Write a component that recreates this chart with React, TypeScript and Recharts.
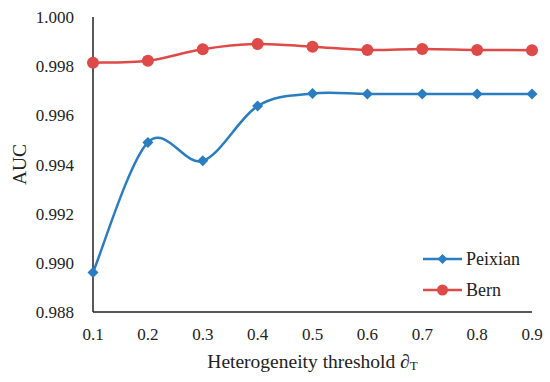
import { Label, Line, LineChart, XAxis, YAxis } from "recharts";

const thresholds = [0.1, 0.2, 0.3, 0.4, 0.5, 0.6, 0.7, 0.8, 0.9];
const peixian = [0.98961, 0.9949, 0.99415, 0.99638, 0.99689, 0.99687, 0.99687, 0.99687, 0.99687];
const bern = [0.99814, 0.99822, 0.99869, 0.9989, 0.99879, 0.99866, 0.9987, 0.99866, 0.99865];
const yTicks = [0.988, 0.99, 0.992, 0.994, 0.996, 0.998, 1.0];

const BLUE = "#2A7DC1";
const RED = "#DE4A47";
const FONT = '"Liberation Serif", "Times New Roman", "DejaVu Serif", serif';

const data = thresholds.map((t, i) => ({ t, peixian: peixian[i], bern: bern[i] }));

// Excel-like smoothed line (Catmull-Rom through every point)
const smoothCurve = (context: any) => {
  let pts: [number, number][] = [];
  return {
    areaStart() {},
    areaEnd() {},
    lineStart() {
      pts = [];
    },
    point(x: number, y: number) {
      pts.push([+x, +y]);
    },
    lineEnd() {
      if (!pts.length) return;
      context.moveTo(pts[0][0], pts[0][1]);
      for (let i = 0; i < pts.length - 1; i++) {
        const p0 = pts[i - 1] || pts[i];
        const p1 = pts[i];
        const p2 = pts[i + 1];
        const p3 = pts[i + 2] || p2;
        context.bezierCurveTo(
          p1[0] + (p2[0] - p0[0]) / 6,
          p1[1] + (p2[1] - p0[1]) / 6,
          p2[0] - (p3[0] - p1[0]) / 6,
          p2[1] - (p3[1] - p1[1]) / 6,
          p2[0],
          p2[1]
        );
      }
    },
  };
};

const diamond = (cx: number, cy: number, r: number) =>
  `M${cx},${cy - r}L${cx + r},${cy}L${cx},${cy + r}L${cx - r},${cy}Z`;

const DiamondDot = (props: any) => {
  const { cx, cy, index } = props;
  if (cx == null || cy == null) return <g key={`d-${index}`} />;
  return <path key={`d-${index}`} d={diamond(cx, cy, 5.5)} fill={BLUE} />;
};

const CircleDot = (props: any) => {
  const { cx, cy, index } = props;
  if (cx == null || cy == null) return <g key={`c-${index}`} />;
  return <circle key={`c-${index}`} cx={cx} cy={cy} r={6} fill={RED} />;
};

const textStyle = { fontFamily: FONT, fill: "#222" };

const XTick = (props: any) => {
  const { x, y, payload } = props;
  return (
    <text x={x} y={y + 12} textAnchor="middle" style={{ ...textStyle, fontSize: 17 }}>
      {Number(payload.value).toFixed(1)}
    </text>
  );
};

const YTick = (props: any) => {
  const { x, y, payload } = props;
  return (
    <text x={x} y={y + 6} textAnchor="end" style={{ ...textStyle, fontSize: 17 }}>
      {Number(payload.value).toFixed(3)}
    </text>
  );
};

const LegendBox = () => {
  const rows = [
    { name: "Peixian", color: BLUE, shape: "diamond" },
    { name: "Bern", color: RED, shape: "circle" },
  ];
  return (
    <svg width={120} height={60} style={{ position: "absolute", left: 421, top: 249 }}>
      {rows.map((r, i) => {
        const y = 10 + i * 31;
        return (
          <g key={r.name}>
            <line x1={2} x2={41} y1={y} y2={y} stroke={r.color} strokeWidth={2.5} />
            {r.shape === "diamond" ? (
              <path d={diamond(21.5, y, 5)} fill={r.color} />
            ) : (
              <circle cx={21.5} cy={y} r={5.5} fill={r.color} />
            )}
            <text x={45} y={y + 6} style={{ ...textStyle, fontSize: 18 }}>
              {r.name}
            </text>
          </g>
        );
      })}
    </svg>
  );
};

const XTitle = (props: any) => {
  const { viewBox } = props;
  const cx = viewBox.x + viewBox.width / 2;
  return (
    <text x={cx} y={368} textAnchor="middle" style={{ ...textStyle, fontSize: 19.5 }}>
      Heterogeneity threshold ∂
      <tspan fontSize={13} dy={2}>
        T
      </tspan>
    </text>
  );
};

const YTitle = (props: any) => {
  const { viewBox } = props;
  const cy = viewBox.y + viewBox.height / 2;
  return (
    <text
      x={26}
      y={cy}
      textAnchor="middle"
      transform={`rotate(-90, 26, ${cy})`}
      style={{ ...textStyle, fontSize: 19.5 }}
    >
      AUC
    </text>
  );
};

export default function App() {
  return (
    <div style={{ position: "absolute", left: 0, top: 0, width: 550, height: 382, background: "#fff" }}>
      <LineChart width={550} height={382} data={data} margin={{ top: 17, right: 18, bottom: 0, left: 0 }}>
        <XAxis
          dataKey="t"
          type="number"
          domain={[0.1, 0.9]}
          ticks={thresholds}
          tick={<XTick />}
          tickLine={false}
          tickSize={0}
          tickMargin={16}
          axisLine={{ stroke: "#222", strokeWidth: 1.5 }}
          height={70}
          interval={0}
        >
          <Label content={<XTitle />} />
        </XAxis>
        <XAxis
          xAxisId="top"
          orientation="top"
          dataKey="t"
          type="number"
          domain={[0.1, 0.9]}
          tick={false}
          tickLine={false}
          axisLine={{ stroke: "#222", strokeWidth: 1.5 }}
          height={0}
        />
        <YAxis
          domain={[0.988, 1.0]}
          ticks={yTicks}
          tick={<YTick />}
          tickLine={false}
          tickSize={0}
          tickMargin={19}
          axisLine={{ stroke: "#222", strokeWidth: 1.5 }}
          width={93}
          interval={0}
        >
          <Label content={<YTitle />} />
        </YAxis>
        <YAxis
          yAxisId="right"
          orientation="right"
          domain={[0.988, 1.0]}
          tick={false}
          tickLine={false}
          axisLine={{ stroke: "#222", strokeWidth: 1.5 }}
          width={0}
        />
        <Line
          dataKey="peixian"
          name="Peixian"
          type={smoothCurve as any}
          stroke={BLUE}
          strokeWidth={2.5}
          dot={DiamondDot}
          activeDot={false}
          isAnimationActive={false}
        />
        <Line
          dataKey="bern"
          name="Bern"
          type={smoothCurve as any}
          stroke={RED}
          strokeWidth={2.5}
          dot={CircleDot}
          activeDot={false}
          isAnimationActive={false}
        />
      </LineChart>
      <LegendBox />
    </div>
  );
}
